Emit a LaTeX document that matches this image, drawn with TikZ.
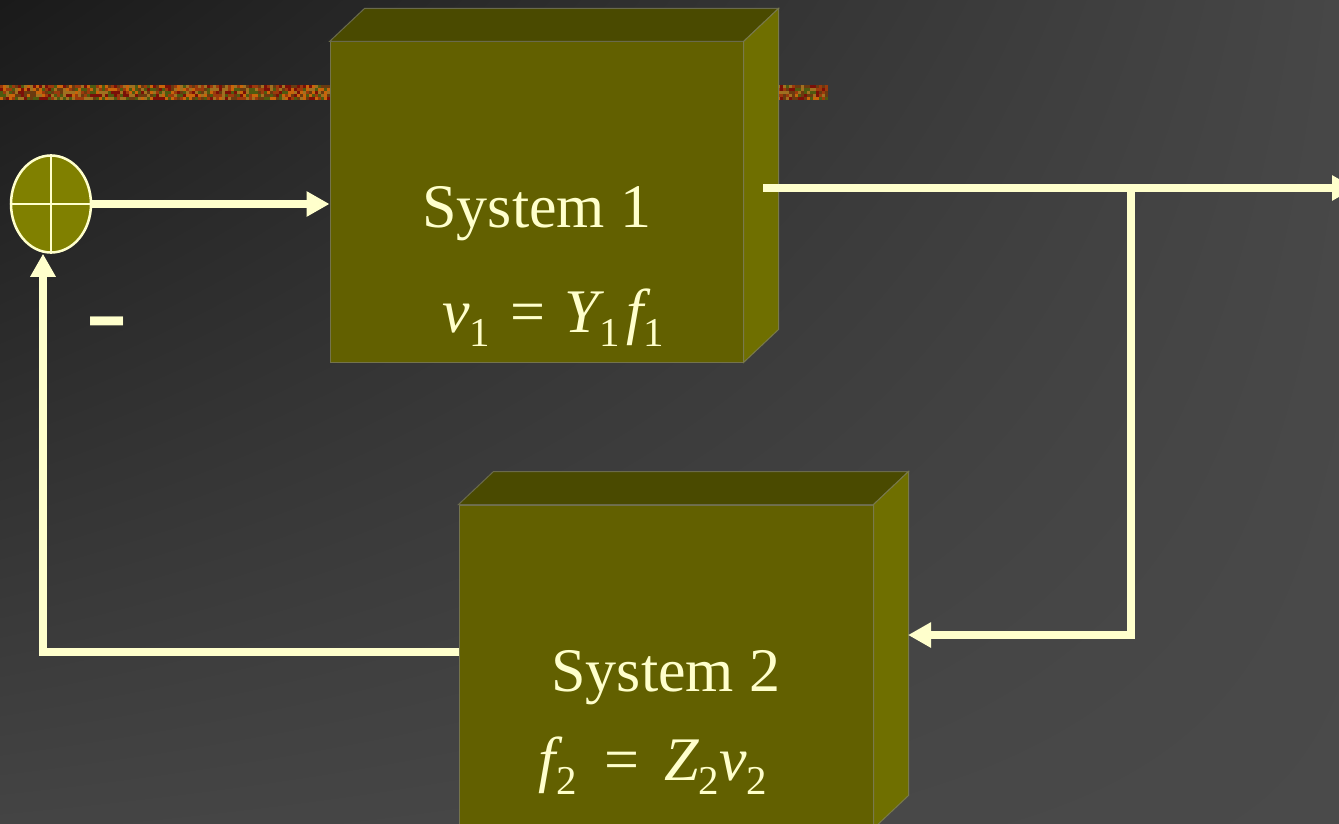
\documentclass[tikz,border=0pt]{standalone}
\usepackage{fontspec}
\setmainfont{Liberation Serif}
\newfontfamily\dashfont{Liberation Sans}
\usepackage{tikz}
\usetikzlibrary{arrows.meta,shapes.geometric,calc,shadings}
\definecolor{bgA}{HTML}{1A1A1A}
\definecolor{bgB}{HTML}{474747}
\definecolor{bgC}{HTML}{444444}
\definecolor{bgD}{HTML}{4A4A4A}
\definecolor{cream}{HTML}{FFFFCC}
\definecolor{oliveF}{HTML}{626000}
\definecolor{oliveT}{HTML}{4A4A00}
\definecolor{oliveS}{HTML}{6F6F00}
\definecolor{oliveE}{HTML}{808000}
\definecolor{stripe1}{HTML}{9B3A0C}
\definecolor{stripe2}{HTML}{C8640A}
\definecolor{stripe3}{HTML}{7A1008}
\definecolor{stripe4}{HTML}{4E5A10}
\definecolor{stripe5}{HTML}{A07020}
\definecolor{stripe6}{HTML}{6A3A10}
% lowered index as in the slide formulas
\newcommand\subidx[1]{\raisebox{-0.24em}{\fontsize{41}{41}\selectfont #1}}
% top and right faces of a block whose front face is node #1
\newcommand\blockfaces[1]{%
  \fill[boxtop] (#1.north west) -- ++(35,-33) -- ($(#1.north east)+(35,-33)$) -- (#1.north east) -- cycle;
  \fill[boxside] (#1.north east) -- ++(35,-33) -- ($(#1.south east)+(35,-33)$) -- (#1.south east) -- cycle;}

\begin{document}
\begin{tikzpicture}[x=1pt,y=-1pt,
  front/.style={rectangle,fill=oliveF,draw=gray!60!oliveF,line width=1pt,inner sep=0pt},
  boxtop/.style={fill=oliveT,draw=gray!60!oliveT,line width=1pt},
  boxside/.style={fill=oliveS,draw=gray!60!oliveS,line width=1pt},
  lbl/.style={text=cream,inner sep=0pt,anchor=base,font=\fontsize{62}{66}\selectfont},
  sumnode/.style={ellipse,fill=oliveE,draw=cream,line width=2.5pt,
    minimum width=80pt,minimum height=97pt,inner sep=0pt},
  flow/.style={draw=cream,line width=8pt,line join=miter,
    -{Triangle[length=23pt,width=24pt]}}]
% --- background and title stripe ---
\clip (0,0) rectangle (1339,824);
\shade[upper left=bgA,upper right=bgB,lower left=bgC,lower right=bgD]
  (0,0) rectangle (1339,824);
\pgfmathsetseed{42}
\foreach \i in {0,...,275}{
  \foreach \j in {0,...,4}{
    \pgfmathrandominteger{\k}{1}{6}
    \fill[stripe\k] (\i*3,85+\j*3) rectangle ++(3,3);
  }}
% --- the two blocks ---
\node[front,minimum width=413pt,minimum height=320pt] (sys1) at (536.5,202) {};
\blockfaces{sys1}
\node[front,minimum width=414pt,minimum height=323pt] (sys2) at (666,666.5) {};
\blockfaces{sys2}
\node[lbl] (t1) at (537,227) {System 1};
\node[lbl] (e1) at (553,332)
  {{\itshape v}\subidx{1}\hspace{0.32em}=\hspace{0.32em}{\itshape Y}\subidx{1}\hspace{0.1em}{\itshape f}\subidx{1}};
\node[lbl] (t2) at (666,691) {System 2};
\node[lbl] (e2) at (653,780)
  {{\itshape f}\subidx{2}\hspace{0.45em}=\hspace{0.4em}{\itshape Z}\subidx{2}{\itshape v}\subidx{2}};
% --- summing junction ---
\node[sumnode] (sum) at (51,204) {};
\draw[cream,line width=2.5pt] (sum.north) -- (sum.south) (sum.west) -- (sum.east);
\node[text=cream,inner sep=0pt,anchor=base,font=\dashfont\bfseries\fontsize{58}{58}\selectfont]
  (minus) at (107,345) {\scalebox{1.15}[1.55]{–}};
% --- connectors ---
\coordinate (s1out) at (763,188);
\coordinate (out) at (1355,188);
\coordinate (tap) at (1131,188);
\coordinate (s2in) at (908,635);
\coordinate (s2out) at (459,652);
\coordinate (fb) at (43,652);
\draw[flow] (sum.east) -- (sum.east -| sys1.west);
\draw[flow] (s1out) -- (out);
\draw[flow] (tap) |- (s2in);
\draw[flow] (s2out) -- (fb) -- (fb |- sum.south);
\end{tikzpicture}
\end{document}
